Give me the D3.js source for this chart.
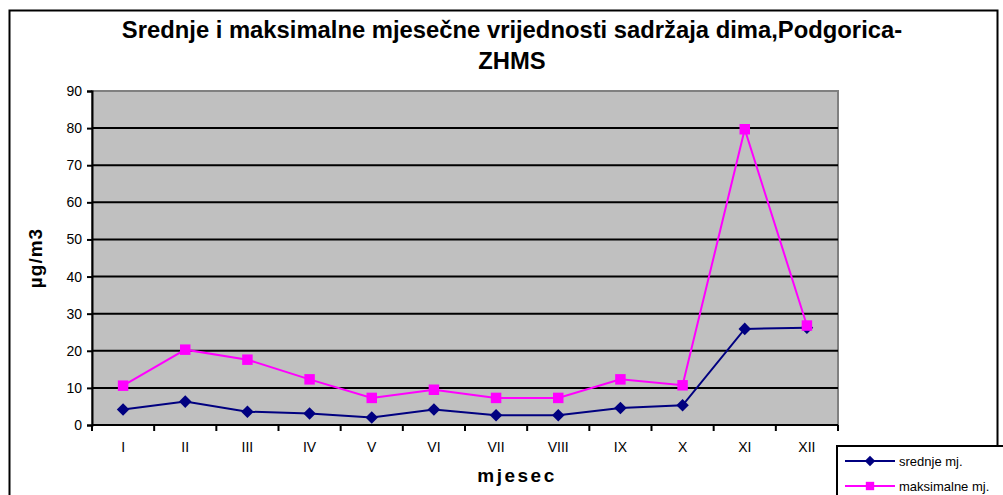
<!DOCTYPE html>
<html>
<head>
<meta charset="utf-8">
<script src="https://cdn.jsdelivr.net/npm/d3@7"></script>
<style>
  body { margin: 0; background: #fff; }
  text { font-family: "Liberation Sans", Arial, sans-serif; }
</style>
</head>
<body>
<div id="chart-area"></div>
<script>
// chart data
const months = ["I", "II", "III", "IV", "V", "VI", "VII", "VIII", "IX", "X", "XI", "XII"]
const srednje = [4.2, 6.3, 3.6, 3.1, 2.0, 4.2, 2.6, 2.6, 4.6, 5.3, 25.9, 26.2]
const maksimalne = [10.6, 20.3, 17.6, 12.3, 7.3, 9.5, 7.3, 7.3, 12.3, 10.7, 79.7, 26.8]
const yTicks = [0, 10, 20, 30, 40, 50, 60, 70, 80, 90]

const series = [
  { name: "srednje mj.", values: srednje, color: "#000080", marker: "diamond" },
  { name: "maksimalne mj.", values: maksimalne, color: "#FF00FF", marker: "square" }
]

const W = 1003, H = 495
const MARGIN = { LEFT: 92, RIGHT: 165, TOP: 91, BOTTOM: 70 }
const WIDTH = W - MARGIN.LEFT - MARGIN.RIGHT
const HEIGHT = H - MARGIN.TOP - MARGIN.BOTTOM

const svg = d3.select("#chart-area").append("svg")
  .attr("width", W)
  .attr("height", H)

// outer chart border
svg.append("rect")
  .attr("x", 9.5).attr("y", 10.5)
  .attr("width", 988).attr("height", 500)
  .attr("fill", "#fff")
  .attr("stroke", "#000")
  .attr("stroke-width", 2)

// title
svg.append("text")
  .attr("x", 512).attr("y", 38)
  .attr("text-anchor", "middle")
  .attr("font-size", "23.8px")
  .attr("font-weight", "bold")
  .text("Srednje i maksimalne mjesečne vrijednosti sadržaja dima,Podgorica-")
svg.append("text")
  .attr("x", 512).attr("y", 69)
  .attr("text-anchor", "middle")
  .attr("font-size", "23.8px")
  .attr("font-weight", "bold")
  .text("ZHMS")

const g = svg.append("g")
  .attr("transform", `translate(${MARGIN.LEFT}, ${MARGIN.TOP})`)

const x = d3.scaleBand()
  .domain(months)
  .range([0, WIDTH])

const y = d3.scaleLinear()
  .domain([0, 90])
  .range([HEIGHT, 0])

// plot area
g.append("rect")
  .attr("width", WIDTH)
  .attr("height", HEIGHT)
  .attr("fill", "#C0C0C0")
  .attr("stroke", "#808080")
  .attr("stroke-width", 2)

// gridlines
g.selectAll(".grid")
  .data(yTicks.filter(d => d > 0 && d < 90))
  .enter().append("line")
  .attr("x1", 0).attr("x2", WIDTH)
  .attr("y1", d => y(d)).attr("y2", d => y(d))
  .attr("stroke", "#000")
  .attr("stroke-width", 2)

// y axis
const yAxisCall = d3.axisLeft(y)
  .tickValues(yTicks)
  .tickSize(5)
  .tickPadding(5)
const yAxis = g.append("g").call(yAxisCall)
yAxis.select(".domain").attr("stroke", "#000").attr("stroke-width", 2)
yAxis.selectAll(".tick line").attr("stroke-width", 2)
yAxis.selectAll("text")
  .attr("font-size", "14px")
  .attr("font-family", "Liberation Sans, Arial, sans-serif")
  .attr("fill", "#000")

// x axis, ticks on category boundaries
const xAxis = g.append("g").attr("transform", `translate(0, ${HEIGHT})`)
xAxis.append("line")
  .attr("x1", 0).attr("x2", WIDTH)
  .attr("stroke", "#000").attr("stroke-width", 2)
xAxis.selectAll(".xt")
  .data(months.concat(["end"]))
  .enter().append("line")
  .attr("x1", (d, i) => i * x.bandwidth())
  .attr("x2", (d, i) => i * x.bandwidth())
  .attr("y1", 0).attr("y2", 6)
  .attr("stroke", "#000").attr("stroke-width", 2)
xAxis.selectAll(".xl")
  .data(months)
  .enter().append("text")
  .attr("x", d => x(d) + x.bandwidth() / 2)
  .attr("y", 27)
  .attr("text-anchor", "middle")
  .attr("font-size", "14px")
  .text(d => d)

// axis titles
svg.append("text")
  .attr("x", 517).attr("y", 482)
  .attr("text-anchor", "middle")
  .attr("font-size", "19px")
  .attr("font-weight", "bold")
  .attr("letter-spacing", "2.5px")
  .text("mjesec")

svg.append("text")
  .attr("transform", `translate(42, ${MARGIN.TOP + HEIGHT / 2}) rotate(-90)`)
  .attr("text-anchor", "middle")
  .attr("font-size", "19px")
  .attr("font-weight", "bold")
  .attr("letter-spacing", "1px")
  .text("µg/m3")

// lines and markers
const line = d3.line()
  .x((d, i) => x(months[i]) + x.bandwidth() / 2)
  .y(d => y(d))

const diamond = d3.symbol().type(d3.symbolDiamond2).size(100)
const square = d3.symbol().type(d3.symbolSquare).size(110)

series.forEach(s => {
  g.append("path")
    .attr("d", line(s.values))
    .attr("fill", "none")
    .attr("stroke", s.color)
    .attr("stroke-width", 2)
})
series.forEach(s => {
  g.selectAll(null)
    .data(s.values)
    .enter().append("path")
    .attr("transform", (d, i) => `translate(${x(months[i]) + x.bandwidth() / 2}, ${y(d)})`)
    .attr("d", s.marker === "diamond" ? diamond() : square())
    .attr("fill", s.color)
})

// legend
const legend = svg.append("g").attr("transform", "translate(837, 446)")
legend.append("rect")
  .attr("width", 170).attr("height", 60)
  .attr("fill", "#fff")
  .attr("stroke", "#000")
  .attr("stroke-width", 2)
series.forEach((s, i) => {
  const ly = 15 + i * 25
  legend.append("line")
    .attr("x1", 8).attr("x2", 58)
    .attr("y1", ly).attr("y2", ly)
    .attr("stroke", s.color).attr("stroke-width", 2)
  legend.append("path")
    .attr("transform", `translate(33, ${ly})`)
    .attr("d", s.marker === "diamond" ? d3.symbol().type(d3.symbolDiamond2).size(70)() : d3.symbol().type(d3.symbolSquare).size(70)())
    .attr("fill", s.color)
  legend.append("text")
    .attr("x", 62).attr("y", ly + 5)
    .attr("font-size", "13px")
    .text(s.name)
})
</script>
</body>
</html>
